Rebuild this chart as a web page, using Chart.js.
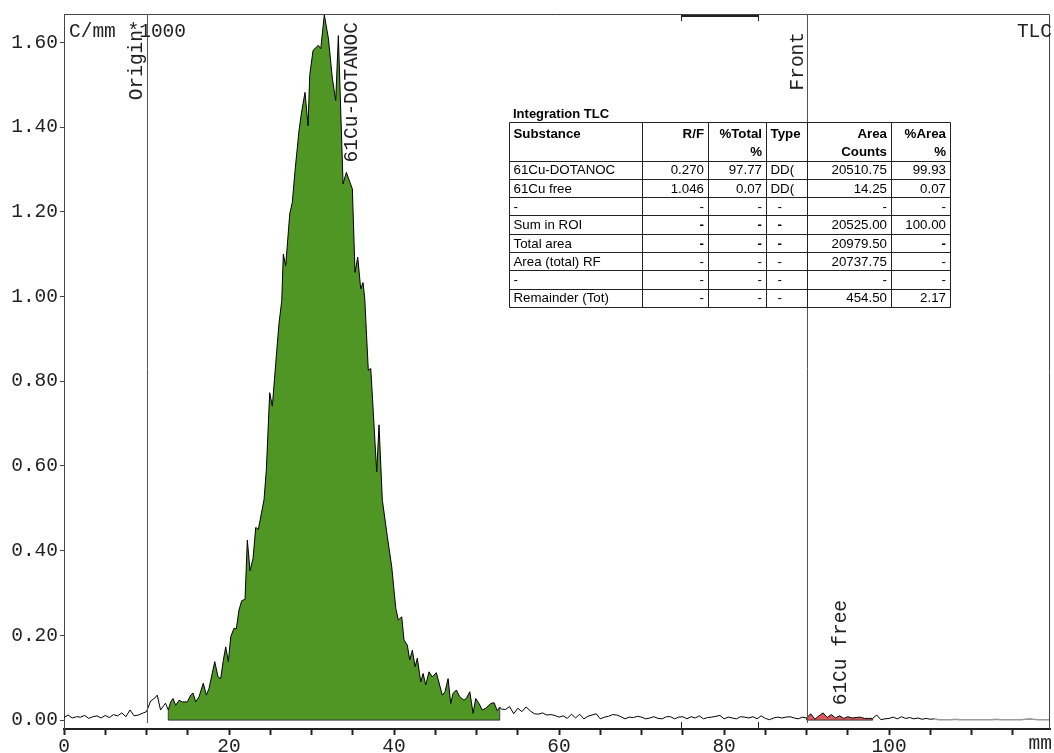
<!DOCTYPE html>
<html>
<head>
<meta charset="utf-8">
<script src="https://cdn.jsdelivr.net/npm/chart.js@4/dist/chart.umd.min.js"></script>
<style>
  html, body { margin: 0; padding: 0; background: #fff; }
  #c { display: block; }
</style>
</head>
<body>
<canvas id="c" width="1054" height="753"></canvas>
<script>
// ---------------- DATA ----------------
// Radio-TLC scan: position along plate (mm) and count rate (C/mm *1000)
const POSITION_MM = [
  0, 0.5, 1, 1.5, 2, 2.5, 3, 3.5, 4, 4.5, 5, 5.5, 6, 6.5, 7, 7.5, 8, 8.5, 9, 9.5,
  10, 10.5, 11, 11.3, 11.7, 12.3,
  12.64, 12.93, 13.21, 13.54, 13.94, 14.34, 14.95, 15.36, 15.64, 15.96, 16.36, 16.88,
  17.25, 17.58, 18.27, 18.67, 18.99, 19.31, 19.6, 19.92, 20.21, 20.61, 20.88, 21.21,
  21.54, 21.94, 22.22, 22.55, 22.91, 23.24, 23.55, 24.24, 24.52, 24.93, 25.25, 25.66,
  26.06, 26.39, 26.58, 26.87, 27.36, 27.67, 28.0, 28.48, 28.76, 29.21, 29.58, 29.78,
  30.18, 30.82, 31.12, 31.55, 32.04, 32.52, 32.93, 33.25, 33.82, 34.22, 34.95, 35.27,
  35.6, 35.96, 36.24, 36.45, 36.88, 37.18, 37.9, 38.18, 38.58, 39.19, 39.72, 40.21,
  40.52, 40.93, 41.21, 41.61, 41.9, 42.22, 42.55, 42.82, 43.24, 43.52, 43.84, 44.24,
  44.64, 45.13, 45.85, 46.18, 46.55, 46.87, 47.15, 47.55, 47.96, 48.48, 48.76, 49.18,
  49.58, 49.9, 50.3, 50.7, 51.12, 51.72, 52.12, 52.52, 52.81,
  53, 53.5, 54, 54.5, 55, 55.5, 56, 56.5, 57, 57.5, 58, 58.5, 59, 59.5, 60, 60.5,
  61, 61.5, 62, 62.5, 63, 63.5, 64, 64.5, 65, 65.5, 66, 66.5, 67, 67.5, 68, 68.5,
  69, 69.5, 70, 70.5, 71, 71.5, 72, 72.5, 73, 73.5, 74, 74.5, 75, 75.5, 76, 76.5,
  77, 77.5, 78, 78.5, 79, 79.5, 80, 80.5, 81, 81.5, 82, 82.5, 83, 83.5, 84, 84.5,
  85, 85.5, 86, 86.5, 87, 87.5, 88, 88.5, 89, 89.5, 90, 90.5, 91, 91.5, 92, 92.5,
  93, 93.5, 94, 94.5, 95, 95.5, 96, 96.5, 97, 97.5, 98, 98.5, 99, 99.5, 100, 100.5,
  101, 101.5, 102, 102.5, 103, 103.5, 104, 104.5, 105, 105.5, 106, 106.5, 107, 107.5,
  108, 108.5, 109, 109.5, 110, 110.5, 111, 111.5, 112, 112.5, 113, 113.5, 114, 114.5,
  115, 115.5, 116, 116.5, 117, 117.5, 118, 118.5, 119, 119.5
];
const COUNTS = [
  0.006, 0.012, 0.005, 0.008, 0.007, 0.011, 0.004, 0.008, 0.010, 0.005, 0.011, 0.006, 0.013, 0.010, 0.017, 0.008, 0.024, 0.010, 0.012, 0.016,
  0.020, 0.045, 0.052, 0.059, 0.024, 0.040,
  0.024, 0.043, 0.051, 0.035, 0.047, 0.043, 0.043, 0.059, 0.064, 0.043, 0.055, 0.087,
  0.059, 0.075, 0.138, 0.102, 0.098, 0.141, 0.173, 0.138, 0.197, 0.217, 0.215, 0.260,
  0.282, 0.285, 0.425, 0.352, 0.382, 0.455, 0.450, 0.520, 0.590, 0.773, 0.741, 0.842,
  0.937, 0.990, 1.100, 1.073, 1.195, 1.222, 1.297, 1.391, 1.431, 1.482, 1.403, 1.522,
  1.581, 1.593, 1.585, 1.665, 1.610, 1.516, 1.462, 1.616, 1.266, 1.293, 1.254, 1.057,
  1.093, 1.018, 1.033, 0.995, 0.826, 0.830, 0.586, 0.697, 0.520, 0.433, 0.362, 0.264,
  0.236, 0.244, 0.189, 0.177, 0.142, 0.165, 0.126, 0.146, 0.090, 0.110, 0.083, 0.114,
  0.102, 0.112, 0.059, 0.067, 0.098, 0.039, 0.063, 0.071, 0.055, 0.047, 0.051, 0.067,
  0.016, 0.051, 0.039, 0.024, 0.028, 0.039, 0.041, 0.022, 0.031,
  0.026, 0.025, 0.032, 0.015, 0.028, 0.020, 0.031, 0.022, 0.015, 0.014, 0.017, 0.012, 0.013, 0.011, 0.007, 0.010,
  0.004, 0.014, 0.005, 0.014, 0.003, 0.009, 0.012, 0.015, 0.003, 0.007, 0.009, 0.013, 0.012, 0.008, 0.003, 0.007,
  0.006, 0.009, 0.007, 0.003, 0.005, 0.008, 0.004, 0.003, 0.008, 0.008, 0.003, 0.007, 0.008, 0.003, 0.008, 0.005,
  0.010, 0.003, 0.006, 0.007, 0.009, 0.011, 0.003, 0.007, 0.005, 0.003, 0.008, 0.007, 0.005, 0.008, 0.003, 0.010,
  0.004, 0.001, 0.005, 0.007, 0.005, 0.007, 0.008, 0.005, 0.003, 0.007, 0.005, 0.015, 0.002, 0.010, 0.017, 0.006,
  0.013, 0.005, 0.010, 0.004, 0.008, 0.005, 0.006, 0.007, 0.004, 0.004, 0.004, 0.012, 0.001, 0.003, 0.004, 0.007,
  0.003, 0.008, 0.004, 0.006, 0.003, 0.005, 0.002, 0.004, 0.002, 0.003, 0.001, 0.001, 0.001, 0.001,
  0.002, 0.001, 0.001, 0.001, 0.001, 0.001, 0.001, 0.001, 0.001, 0.001, 0.002, 0.001, 0.001, 0.001,
  0.001, 0.001, 0.001, 0.002, 0.003, 0.002, 0.001, 0.001, 0.001, 0.001
];

// Integrated regions (mm) and markers
const PEAK_NAMES = ['61Cu-DOTANOC', '61Cu free'];
const PEAK_RANGES_MM = [[12.64, 52.81], [90, 98]];
const ORIGIN_MM = 10;
const FRONT_MM = 90;
const BACKGROUND_RANGE_MM = [74.8, 84.1];
const TAIL_START_MM = 105.5;

// Axis ticks
const X_TICKS = [0, 5, 10, 15, 20, 25, 30, 35, 40, 45, 50, 55, 60, 65, 70, 75, 80, 85, 90, 95, 100, 105, 110, 115];
const X_LABELS = [0, 20, 40, 60, 80, 100];
const Y_TICKS = [0, 0.2, 0.4, 0.6, 0.8, 1.0, 1.2, 1.4, 1.6];
const X_MIN = 0, X_MAX = 119.5;
const Y_MIN = -0.021, Y_MAX = 1.667;

// Integration table
const TABLE_TITLE = 'Integration TLC';
const TABLE_HEAD = [['Substance', ''], ['R/F', ''], ['%Total', '%'], ['Type', ''], ['Area', 'Counts'], ['%Area', '%']];
const TABLE_ROWS = [
  ['61Cu-DOTANOC', '0.270', '97.77', 'DD(', '20510.75', '99.93'],
  ['61Cu free', '1.046', '0.07', 'DD(', '14.25', '0.07'],
  ['-', '-', '-', '-', '-', '-'],
  ['Sum in ROI', '-', '-', '-', '20525.00', '100.00'],
  ['Total area', '-', '-', '-', '20979.50', '-'],
  ['Area (total) RF', '-', '-', '-', '20737.75', '-'],
  ['-', '-', '-', '-', '-', '-'],
  ['Remainder (Tot)', '-', '-', '-', '454.50', '2.17']
];
const BOLD_DASH_ROWS = [3, 4];

// ---------------- STYLE ----------------
const MONO = '"Liberation Mono", "DejaVu Sans Mono", monospace';
const MONO_SIZE = 19.5;
const SANS = '"Liberation Sans", Arial, sans-serif';
const GREEN = '#4f9625';
const RED = '#e05a5a';
const TEXT = '#222';

const points = POSITION_MM.map((x, i) => ({ x: x, y: COUNTS[i] }));
const inRange = (r) => points.filter(p => p.x >= r[0] - 1e-9 && p.x <= r[1] + 1e-9);
const peakPts = PEAK_RANGES_MM.map(inRange);

const overlay = {
  id: 'overlay',
  afterDatasetsDraw(chart) {
    const ctx = chart.ctx, xs = chart.scales.x, ys = chart.scales.y;
    const y0 = ys.getPixelForValue(0);
    ctx.save();
    // outline bottom and sides of the integrated areas
    ctx.strokeStyle = '#333';
    ctx.lineWidth = 1;
    peakPts.forEach(pts => {
      const first = pts[0], last = pts[pts.length - 1];
      ctx.beginPath();
      ctx.moveTo(xs.getPixelForValue(first.x), ys.getPixelForValue(first.y));
      ctx.lineTo(xs.getPixelForValue(first.x), y0);
      ctx.lineTo(xs.getPixelForValue(last.x), y0);
      ctx.lineTo(xs.getPixelForValue(last.x), ys.getPixelForValue(last.y));
      ctx.stroke();
    });
    ctx.restore();
  },
  afterDraw(chart) {
    const ctx = chart.ctx, xs = chart.scales.x, ys = chart.scales.y;
    const a = chart.chartArea;
    const y0 = ys.getPixelForValue(0);
    ctx.save();

    // frame top/right
    ctx.strokeStyle = '#444';
    ctx.lineWidth = 1;
    ctx.beginPath();
    ctx.moveTo(a.left, a.top + 0.5);
    ctx.lineTo(a.right - 0.5, a.top + 0.5);
    ctx.lineTo(a.right - 0.5, a.bottom);
    ctx.stroke();

    // origin / front marker lines
    ctx.strokeStyle = '#555';
    [ORIGIN_MM, FRONT_MM].forEach(m => {
      const px = Math.round(xs.getPixelForValue(m)) + 0.5;
      ctx.beginPath();
      ctx.moveTo(px, a.top);
      ctx.lineTo(px, y0 + 3);
      ctx.stroke();
    });

    // background region brackets (top and bottom)
    const bx1 = Math.round(xs.getPixelForValue(BACKGROUND_RANGE_MM[0])) + 0.5;
    const bx2 = Math.round(xs.getPixelForValue(BACKGROUND_RANGE_MM[1])) + 0.5;
    ctx.strokeStyle = '#222';
    ctx.lineWidth = 2;
    ctx.beginPath();
    ctx.moveTo(bx1, a.top + 2); ctx.lineTo(bx2, a.top + 2);
    ctx.stroke();
    ctx.lineWidth = 1;
    ctx.beginPath();
    ctx.moveTo(bx1, a.top + 1); ctx.lineTo(bx1, a.top + 7);
    ctx.moveTo(bx2, a.top + 1); ctx.lineTo(bx2, a.top + 7);
    ctx.moveTo(bx1, a.bottom); ctx.lineTo(bx1, a.bottom - 7);
    ctx.moveTo(bx2, a.bottom); ctx.lineTo(bx2, a.bottom - 7);
    ctx.stroke();

    // texts
    ctx.fillStyle = TEXT;
    ctx.font = MONO_SIZE + 'px ' + MONO;
    ctx.textBaseline = 'alphabetic';
    ctx.textAlign = 'left';
    ctx.fillText('C/mm *1000', a.left + 5, a.top + 23);
    ctx.textAlign = 'right';
    ctx.fillText('TLC', a.right + 2, a.top + 23);
    ctx.fillText('mm', a.right + 2, chart.height - 4);

    function vText(str, xb, y, alignTop) {
      ctx.save();
      ctx.translate(xb, y);
      ctx.rotate(-Math.PI / 2);
      ctx.textAlign = alignTop ? 'right' : 'left';
      ctx.textBaseline = 'alphabetic';
      ctx.fillText(str, 0, 0);
      ctx.restore();
    }
    vText('Origin', xs.getPixelForValue(ORIGIN_MM) - 5, a.top + 16, true);
    vText('Front', xs.getPixelForValue(FRONT_MM) - 4, a.top + 18, true);
    vText(PEAK_NAMES[0], xs.getPixelForValue(35.55), a.top + 8, true);
    vText(PEAK_NAMES[1], xs.getPixelForValue(94.75), ys.getPixelForValue(0.035), false);

    // table
    const cols = [509.5, 642.5, 708.5, 766.5, 807.5, 891.5, 950.5];
    const top = 122.5, headH = 38.5, rowH = 18.3;
    const bottom = top + headH + rowH * TABLE_ROWS.length;
    ctx.font = 'bold 13px ' + SANS;
    ctx.textAlign = 'left';
    ctx.fillStyle = '#000';
    ctx.fillText(TABLE_TITLE, 513, 117.5);
    ctx.strokeStyle = '#222';
    ctx.lineWidth = 1;
    ctx.beginPath();
    cols.forEach(cx => { ctx.moveTo(cx, top); ctx.lineTo(cx, Math.round(bottom) + 0.5); });
    const hy = [top, top + headH];
    for (let i = 1; i <= TABLE_ROWS.length; i++) hy.push(top + headH + rowH * i);
    hy.forEach(yy => { const r = Math.round(yy - 0.5) + 0.5; ctx.moveTo(cols[0], r); ctx.lineTo(cols[cols.length - 1], r); });
    ctx.stroke();

    const leftCols = [0, 3];
    function cellText(txt, ci, baseline, bold) {
      ctx.font = (bold ? 'bold ' : '') + '13.3px ' + SANS;
      if (leftCols.includes(ci)) {
        ctx.textAlign = 'left';
        const x = (ci === 3 && txt === '-') ? cols[ci] + 11 : cols[ci] + 4;
        ctx.fillText(txt, x, baseline);
      } else {
        ctx.textAlign = 'right';
        ctx.fillText(txt, cols[ci + 1] - 4.5, baseline);
      }
    }
    TABLE_HEAD.forEach((h, ci) => {
      cellText(h[0], ci, top + 15, true);
      if (h[1]) cellText(h[1], ci, top + 33, true);
    });
    TABLE_ROWS.forEach((row, ri) => {
      const base = top + headH + rowH * (ri + 1) - 5;
      row.forEach((txt, ci) => {
        const bold = txt === '-' && BOLD_DASH_ROWS.includes(ri) && ci > 0 && ci < 6 && !(ci === 4);
        cellText(txt, ci, base, bold);
      });
    });
    ctx.restore();
  }
};

new Chart(document.getElementById('c'), {
  type: 'line',
  data: {
    datasets: [
      {
        label: 'scan',
        data: points,
        borderColor: '#000',
        borderWidth: 1,
        pointRadius: 0,
        fill: false,
        tension: 0,
        order: 0,
        segment: {
          borderColor: c => c.p0.parsed.x >= TAIL_START_MM ? '#9a9a9a' : '#000',
          borderWidth: c => c.p0.parsed.x >= TAIL_START_MM ? 1.6 : 1
        }
      },
      {
        label: PEAK_NAMES[0],
        data: peakPts[0],
        borderColor: 'rgba(0,0,0,0)',
        borderWidth: 0,
        backgroundColor: GREEN,
        pointRadius: 0,
        fill: 'origin',
        tension: 0,
        order: 1
      },
      {
        label: PEAK_NAMES[1],
        data: peakPts[1],
        borderColor: 'rgba(0,0,0,0)',
        borderWidth: 0,
        backgroundColor: RED,
        pointRadius: 0,
        fill: 'origin',
        tension: 0,
        order: 2
      }
    ]
  },
  options: {
    responsive: false,
    animation: false,
    devicePixelRatio: 1,
    layout: { padding: { top: 14, right: 4, left: 0, bottom: 0 } },
    plugins: { legend: { display: false }, tooltip: { enabled: false }, title: { display: false } },
    scales: {
      x: {
        type: 'linear',
        min: X_MIN,
        max: X_MAX,
        afterBuildTicks: s => { s.ticks = X_TICKS.map(v => ({ value: v })); },
        afterFit: s => { s.height = 24; },
        ticks: {
          autoSkip: false,
          maxRotation: 0,
          minRotation: 0,
          padding: 0,
          color: TEXT,
          font: { family: MONO, size: MONO_SIZE },
          callback: v => X_LABELS.includes(v) ? String(v) : ''
        },
        grid: { drawOnChartArea: false, drawTicks: true, tickLength: 6, tickWidth: 2, tickColor: '#222' },
        border: { display: true, color: '#222', width: 2 }
      },
      y: {
        type: 'linear',
        min: Y_MIN,
        max: Y_MAX,
        afterBuildTicks: s => { s.ticks = Y_TICKS.map(v => ({ value: v })); },
        afterFit: s => { s.width = 64; },
        ticks: {
          autoSkip: false,
          padding: 2,
          color: TEXT,
          font: { family: MONO, size: MONO_SIZE },
          callback: v => Number(v).toFixed(2)
        },
        grid: { drawOnChartArea: false, drawTicks: true, tickLength: 4, tickColor: '#444' },
        border: { display: true, color: '#444', width: 1 }
      }
    }
  },
  plugins: [overlay]
});
</script>
</body>
</html>
